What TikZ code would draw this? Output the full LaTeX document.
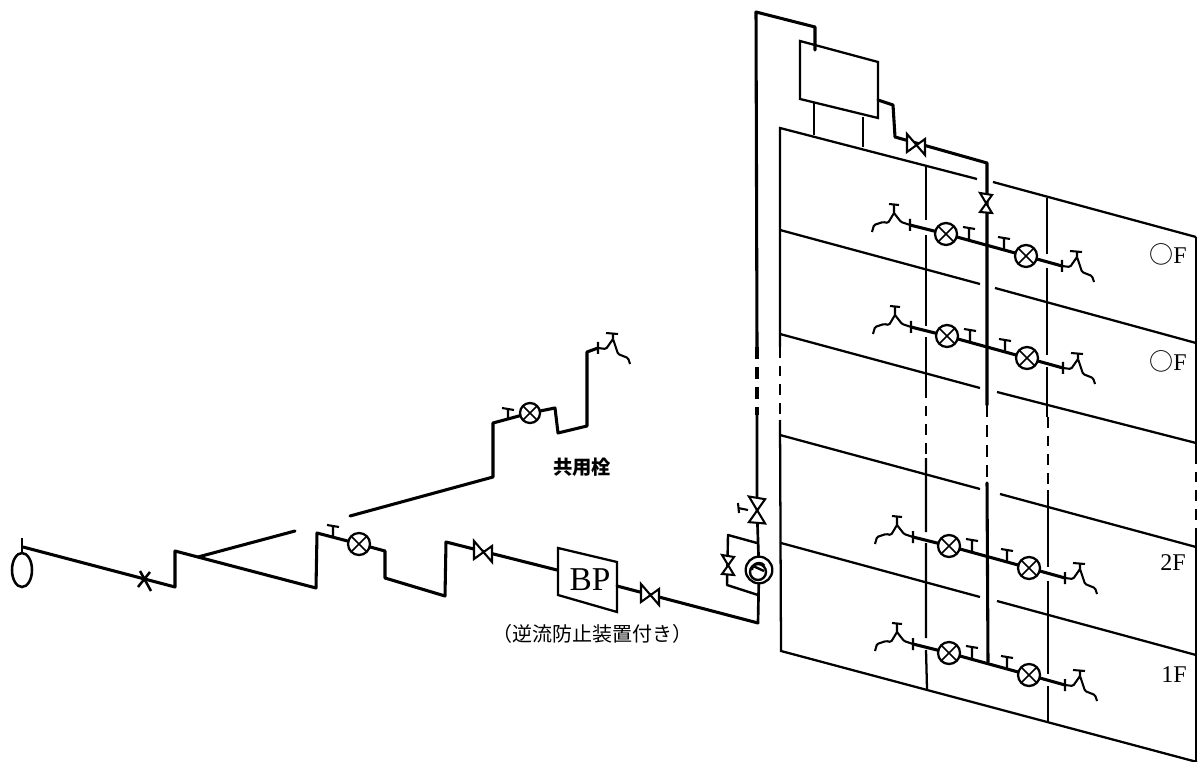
\documentclass[tikz,border=0pt]{standalone}
\usepackage{fontspec}
\usetikzlibrary{shapes.geometric}
\setmainfont{Liberation Serif}
\newfontfamily\cjkfont{Noto Sans CJK JP}
\tikzset{
  pipe/.style={line width=2.3pt,line join=round,line cap=round},
  wall/.style={line width=1.7pt,line join=miter},
  wallbroken/.style={wall,dash pattern=on 8pt off 6pt},
  riserbroken/.style={pipe,line cap=butt,dash pattern=on 9pt off 6pt},
  thin part/.style={line width=1.55pt,line join=miter},
  meter/.style={circle,draw,line width=1.7pt,fill=white,minimum size=16.5pt,inner sep=0pt,
    path picture={\draw[line width=1.2pt] (path picture bounding box.north west)--(path picture bounding box.south east)
      (path picture bounding box.north east)--(path picture bounding box.south west);}},
  floorlabel/.style={font=\fontsize{18}{18}\selectfont,inner sep=0pt},
  hvalve/.pic={\draw[thin part,fill=white] (-9,-10)--(9,11)--(9,-5)--(-9,8)--cycle;},
  vvalve/.pic={\draw[thin part,fill=white] (-6,-10)--(6,-8)--(-6,9)--(6,10)--cycle;},
  thandle/.pic={\draw[thin part] (0,0)--(0,-11) (-6,-12)--(6,-10);},
  faucetleft/.pic={\draw[thin part,rounded corners=1pt] (0,0)--(-9,-3)--(-16,-12)--(-22,-2)--(-27,-3)--(-36,0)--(-38,7);
    \draw[thin part] (-16,-12)--(-16,-20) (-21,-21)--(-11,-20) (0,-6)--(0,6);},
  faucetright/.pic={\draw[thin part,rounded corners=1pt] (0,0)--(8,1)--(15,-9)--(20,6)--(30,10)--(32,16);
    \draw[thin part] (15,-9)--(15,-15) (8,-15)--(20,-14) (0,-6)--(0,6);},
  fixturerow/.pic={
    \coordinate (-tl) at (0,0);
    \coordinate (-tr) at (152,41);
    \node[meter] (-a) at (36,9) {};
    \node[meter] (-b) at (116,31) {};
    \draw[pipe] (-tl)--(-a) (-a)--(-b) (-b)--(-tr);
    \pic at (59,14) {thandle};
    \pic at (94,24) {thandle};
    \pic at (-tl) {faucetleft};
    \pic at (-tr) {faucetright};
  },
}
\begin{document}
\begin{tikzpicture}[x=0.75pt,y=-0.75pt]
\useasboundingbox (0,0) rectangle (1202,762);
\fill[white] (0,0) rectangle (1202,762);
% building: floors
\draw[wall] (1196,237)--(993,182);
\draw[wall] (977,179)--(780,128)--(780,347);
\draw[wallbroken] (780,347)--(780,420);
\draw[wall] (780,420)--(781,651)--(1197,762);
\draw[wall] (1196,237)--(1196,453);
\draw[wallbroken] (1196,453)--(1196,528);
\draw[wall] (1196,528)--(1196,762);
\draw[wall] (780,230)--(980,284) (995,288)--(1196,343);
\draw[wall] (780,334)--(980,388) (997,392)--(1196,443);
\draw[wall] (780,435)--(980,489) (1000,494)--(1196,547);
\draw[wall] (781,543)--(980,597) (997,601)--(1196,655);
% building: vertical lines
\draw[wall] (926,165)--(926,220) (926,235)--(926,326) (926,337)--(926,387);
\draw[wallbroken] (926,387)--(926,458);
\draw[wall] (926,458)--(926,532) (926,543)--(926,638) (926,650)--(927,689);
\draw[wall] (1047,198)--(1047,254) (1047,268)--(1047,355) (1047,367)--(1047,417);
\draw[wallbroken] (1048,417)--(1048,490);
\draw[wall] (1048,490)--(1048,567) (1048,581)--(1048,674) (1048,686)--(1048,722);
% tank and its legs
\draw[wall] (814,103)--(814,135) (863,117)--(863,147);
\draw[wall] (800,41)--(878,62)--(878,118)--(800,99)--cycle;
% supply riser
\coordinate (riserfoot) at (758,623);
\coordinate (tankin) at (815,27);
\draw[pipe] (757,347)--(756,12)--(tankin)--(815,50);
\draw[riserbroken] (757,347)--(757,415);
\node[circle,draw,line width=1.7pt,fill=white,minimum size=20pt,inner sep=0pt] (pump) at (759,570) {};
\draw[pipe,line width=2pt] (757,415)--(757,510)--(pump);
\draw[pipe,line width=2pt] (pump)--(riserfoot);
\draw[pipe,line width=1.8pt] (757,543)--(728,535)--(727,585)--(758,595);
\draw[line width=1.8pt] (758,572) circle[radius=8];
\draw[line width=1.8pt] (753,566)--(764,571) (752,570) arc[start angle=180,end angle=320,radius=7];
\pic[scale=1.35] at (757,510) {vvalve};
\draw[thin part] (738,503)--(739,513) (738,508)--(748,510);
\pic at (728,565) {vvalve};
% service main
\node[draw,ellipse,minimum width=15pt,minimum height=25.5pt,inner sep=0pt,line width=1.9pt] (tap) at (22,570) {};
\draw[thin part] (tap.north)--(22,538);
\node[meter] (m0) at (359,544) {};
\draw[pipe] (23,547)--(175,587)--(175,551)--(316,588)--(317,533)--(m0);
\draw[pipe] (m0)--(385,551)--(385,578)--(445,596)--(446,542)--(557,570);
\draw[line width=1.9pt] (150,572)--(138,587) (140,571)--(151,591);
\pic at (333,537) {thandle};
\pic at (483,551) {hvalve};
% booster pump
\draw[wall,fill=white] (558,548)--(617,562)--(617,612)--(558,595)--cycle;
\node[inner sep=0pt,font=\fontsize{25}{25}\selectfont] (bp) at (590,580) {BP};
\draw[pipe] (617,586)--(758,623);
\pic at (650,594) {hvalve};
% shared faucet branch
\node[meter,minimum size=15pt] (m1) at (530,413) {};
\draw[pipe] (198,557)--(295,531);
\draw[pipe] (350,516)--(493,477)--(493,423)--(m1);
\draw[pipe] (m1)--(555,408)--(558,433)--(587,426)--(587,352)--(598,348);
\pic at (508,420) {thandle};
\pic at (598,348) {faucetright};
% tank outlet and main riser
\draw[pipe] (878,100)--(893,105)--(895,137)--(987,163)--(987,405);
\draw[riserbroken,line width=2pt] (987,405)--(987,483);
\draw[pipe] (987,483)--(988,662);
\pic at (916,144) {hvalve};
\pic at (986,203) {vvalve};
% fixtures
\pic (r1) at (910,225) {fixturerow};
\pic (r2) at (911,327) {fixturerow};
\pic (r3) at (913,537) {fixturerow};
\pic (r4) at (913,644) {fixturerow};
% labels
\node[floorlabel] (f1) at (1168,254) {{\cjkfont ○}F};
\node[floorlabel] (f2) at (1168,361) {{\cjkfont ○}F};
\node[floorlabel] (f3) at (1173,563) {2F};
\node[floorlabel] (f4) at (1174,675) {1F};
\node[inner sep=0pt,font=\cjkfont\bfseries\fontsize{14.5}{15}\selectfont] (shared) at (582,467) {共用栓};
\node[inner sep=0pt,font=\cjkfont\fontsize{15}{15}\selectfont] (note) at (592,634) {（逆流防止装置付き）};
\end{tikzpicture}
\end{document}
